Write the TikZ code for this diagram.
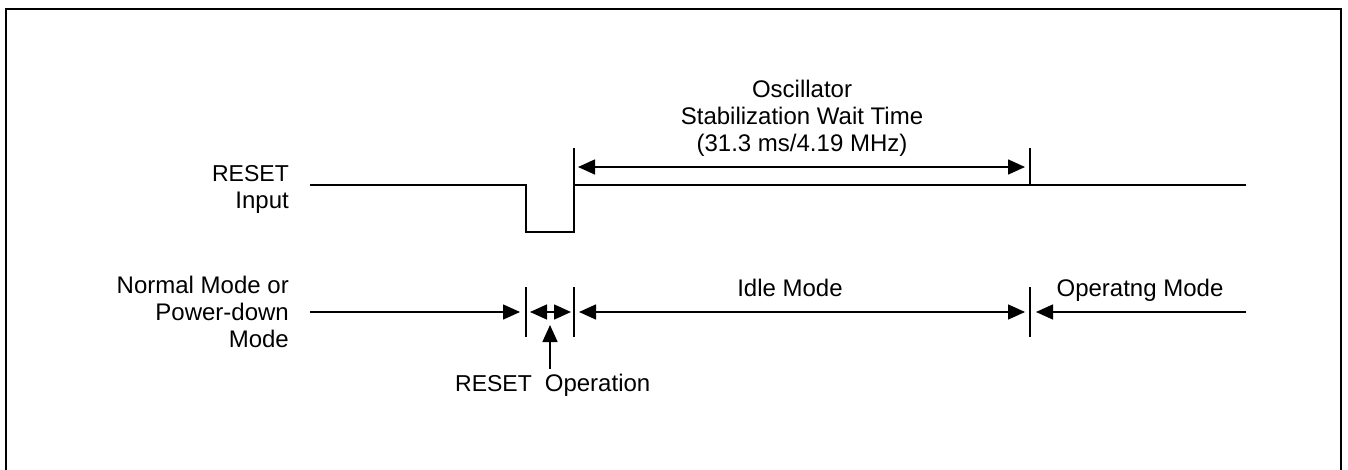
\documentclass[tikz,border=0pt]{standalone}
\usepackage{fontspec}
\setmainfont{Liberation Sans}
\usetikzlibrary{arrows.meta,positioning}

\begin{document}
\begin{tikzpicture}[
  x=1pt, y=-1pt,
  wave/.style={line width=1.5pt},
  mark line/.style={line width=1.5pt},
  span/.style={line width=1.5pt, {Triangle[length=17pt,width=15pt]}-{Triangle[length=17pt,width=15pt]}},
  goes/.style={line width=1.5pt, -{Triangle[length=17pt,width=15pt]}},
  lbl/.style={font=\fontsize{24}{27}\selectfont, align=center, inner sep=0pt},
  side/.style={lbl, align=right, anchor=east}
]
  \useasboundingbox (0,0) rectangle (1348,470);

  % Frame (open at the bottom)
  \draw[line width=2pt] (6,470) -- (6,9) -- (1341,9) -- (1341,470);

  % RESET waveform
  \coordinate (hi0) at (310,185);
  \coordinate (fall) at (526,185);
  \coordinate (lo0) at (526,232);
  \coordinate (lo1) at (574,232);
  \coordinate (rise) at (574,185);
  \coordinate (hi1) at (1246,185);
  \draw[wave] (hi0) -- (fall) -- (lo0) -- (lo1) -- (rise) -- (hi1);

  % Wait time marks
  \coordinate (waitA) at (574,148);
  \coordinate (waitB) at (1030,148);
  \coordinate (waitB0) at (1030,185);
  \draw[mark line] (waitA) -- (rise);
  \draw[mark line] (waitB) -- (waitB0);
  \coordinate (arrA) at (574,167);
  \coordinate (arrB) at (1030,167);
  \draw[span, shorten <=4pt, shorten >=5pt] (arrA) -- (arrB);
  \node[lbl, anchor=south] (osc) at (802,157) {Oscillator\\Stabilization Wait Time\\(31.3 ms/4.19 MHz)};

  % Left labels
  \node[side] (resetin) at (289,189) {\fontsize{23}{27}\selectfont RESET\\Input};
  \node[side] (mode) at (289,312) {Normal Mode or\\Power-down\\Mode};

  % Mode row
  \foreach \x/\n in {526/m1, 574/m2, 1030/m3} {
    \coordinate (\n t) at (\x,287);
    \coordinate (\n b) at (\x,337);
    \coordinate (\n) at (\x,312);
    \draw[mark line] (\n t) -- (\n b);
  }
  \coordinate (start) at (310,312);
  \coordinate (stop) at (1246,312);
  \draw[goes, shorten >=6pt] (start) -- (m1);
  \draw[span, shorten <=4pt, shorten >=3pt] (m1) -- (m2);
  \draw[span, shorten <=5pt, shorten >=5pt] (m2) -- (m3);
  \draw[goes, shorten >=6pt] (stop) -- (m3);

  \node[lbl, anchor=base] (idle) at (790,296) {Idle Mode};
  \node[lbl, anchor=base] (oper) at (1140,296) {Operatng Mode};

  % RESET operation pointer
  \coordinate (ptr0) at (550,369);
  \coordinate (ptr1) at (550,325);
  \draw[goes] (ptr0) -- (ptr1);
  \node[lbl, anchor=base west] (resetop) at (455,391) {{\fontsize{23}{27}\selectfont RESET}\hspace{13pt}Operation};
\end{tikzpicture}
\end{document}
